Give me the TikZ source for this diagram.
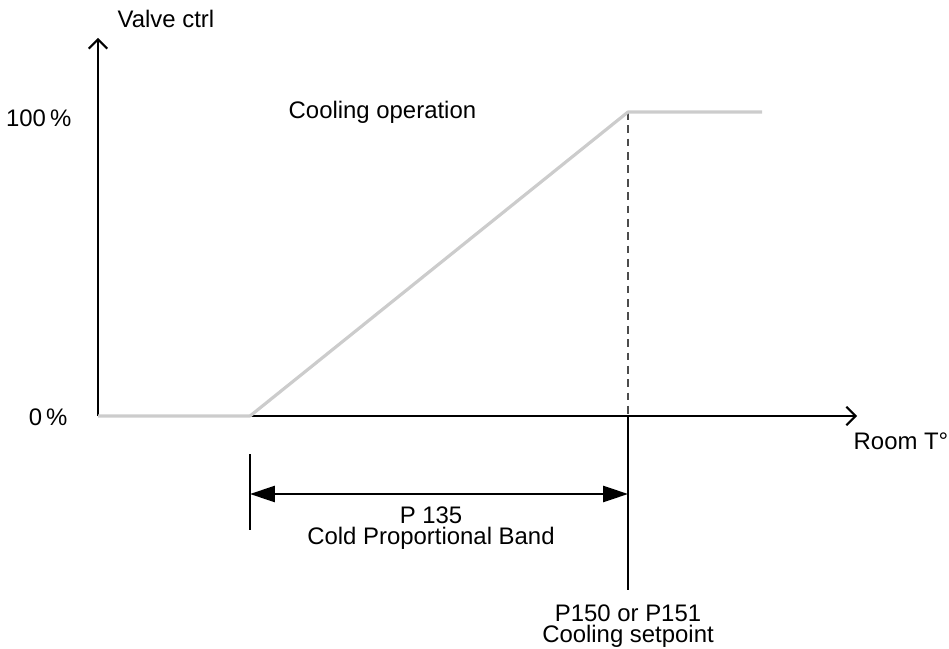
\documentclass[tikz,border=0pt]{standalone}
\usepackage{fontspec}
\setmainfont{Liberation Sans}
\usetikzlibrary{arrows.meta}

\begin{document}
\begin{tikzpicture}[
    x=0.01cm,
    y=-0.01cm,
    line cap=butt,
    line join=round,
    axis/.style={line width=0.6pt,-{Straight Barb[length=2.6pt,width=5.2pt,line width=0.6pt]}},
    curve/.style={line width=0.9pt,color=black!20},
    helper/.style={line width=0.45pt,color=black!70,dash pattern=on 2.2pt off 1.6pt},
    solid line/.style={line width=0.6pt},
    dimension/.style={line width=0.6pt,{Triangle[length=7.1pt,width=4.6pt]}-{Triangle[length=7.1pt,width=4.6pt]}},
    label/.style={font=\fontsize{6.8pt}{6.1pt}\selectfont,inner sep=0pt}
]

\useasboundingbox (0,0) rectangle (949,649);

% -------------------------------------------------
% Points of the characteristic
% -------------------------------------------------

\coordinate (O)     at (98,416);
\coordinate (Ytop)  at (98,38);
\coordinate (Xend)  at (857,416);

\coordinate (Start) at (250,416);
\coordinate (Sat)   at (628,112);
\coordinate (End)   at (762,112);

\coordinate (SP)    at (628,416);
\coordinate (SPlow) at (628,590);

\coordinate (TickT) at (250,454);
\coordinate (TickB) at (250,530);
\coordinate (DimL)  at (250,494);
\coordinate (DimR)  at (628,494);

% -------------------------------------------------
% Axes
% -------------------------------------------------

\draw[axis] (O)--(Ytop);
\draw[axis] (O)--(Xend);

% -------------------------------------------------
% Valve characteristic
% -------------------------------------------------

\draw[helper] (Sat)--(SP);
\draw[curve] (O)--(Start)--(Sat)--(End);

% -------------------------------------------------
% Setpoint and band
% -------------------------------------------------

\draw[solid line] (SP)--(SPlow);
\draw[solid line] (TickT)--(TickB);
\draw[dimension] (DimL)--(DimR);

% -------------------------------------------------
% Labels
% -------------------------------------------------

\node[label,anchor=west] (ylabel) at (117,19)  {Valve ctrl};
\node[label,anchor=east] (full)   at (72,118)  {100\,\%};
\node[label,anchor=east] (zero)   at (68,417)  {0\,\%};
\node[label,anchor=west] (mode)   at (288,112) {Cooling operation};
\node[label,anchor=west] (xlabel) at (853,441) {Room T°};

\node[label,align=center] (band)  at (431,528)
    {P 135\\Cold Proportional Band};
\node[label,align=center] (setpt) at (628,626)
    {P150 or P151\\Cooling setpoint};

\end{tikzpicture}
\end{document}
